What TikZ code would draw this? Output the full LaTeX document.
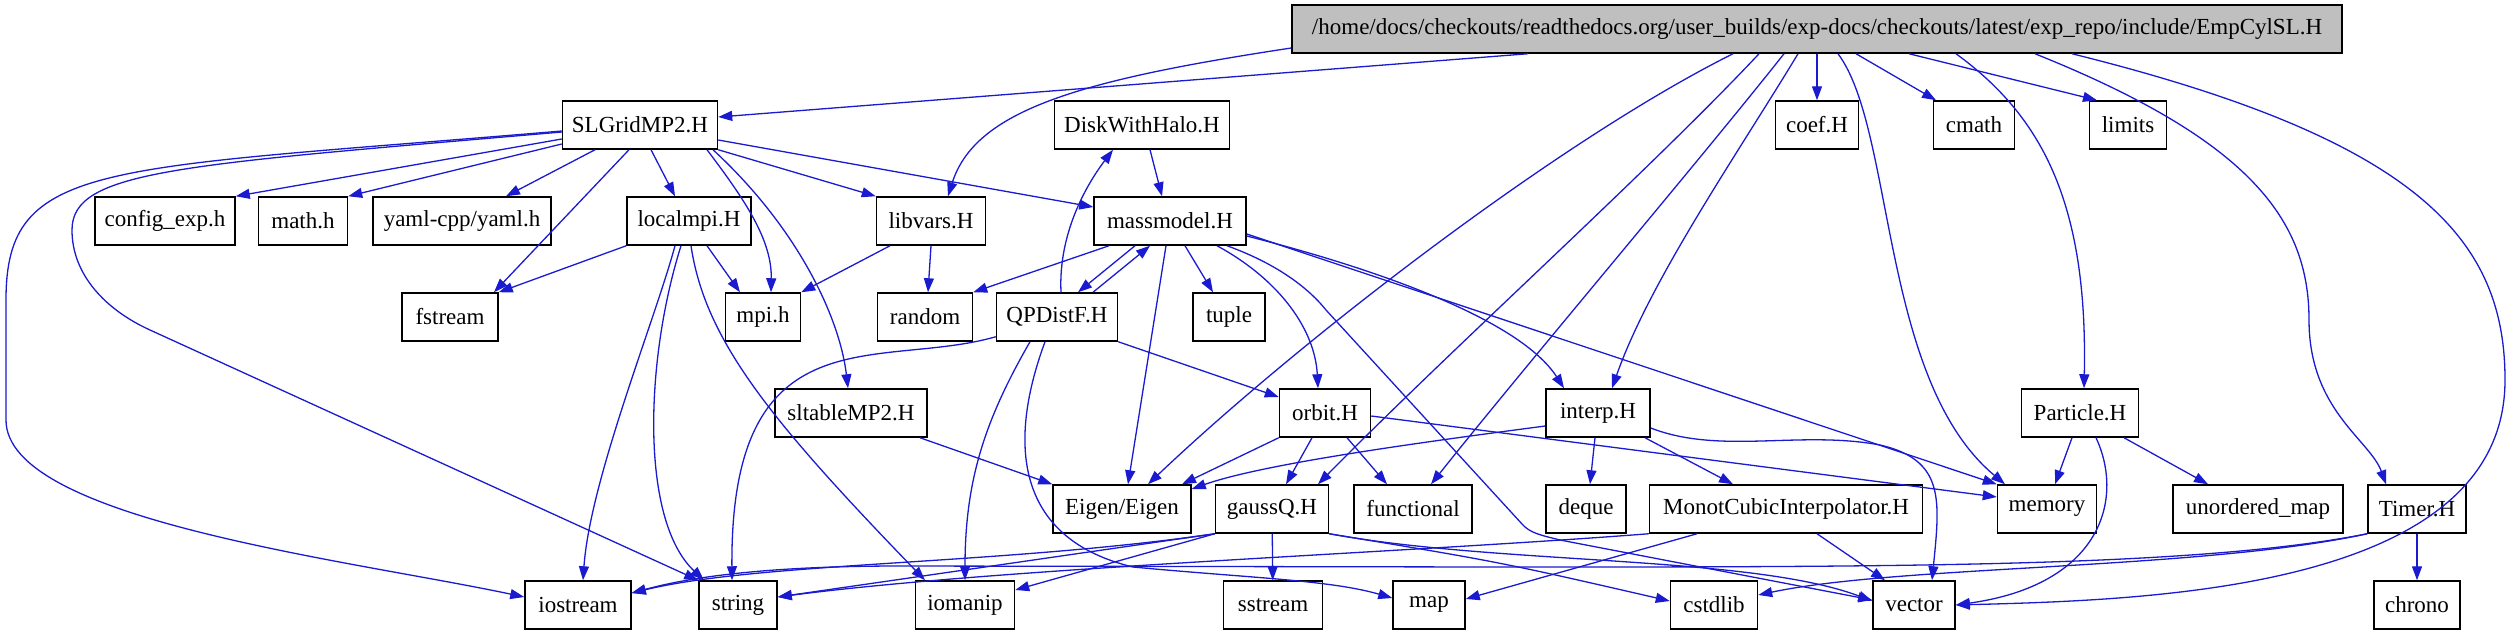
\documentclass[tikz,border=0pt]{standalone}
\usepackage{fontspec}
\setmainfont{Liberation Serif}
\usetikzlibrary{arrows.meta}
\definecolor{edgeblue}{RGB}{26,26,208}
\definecolor{rootgray}{RGB}{191,191,191}

\begin{document}
\begin{tikzpicture}[x=1pt, y=-1pt,
  box/.style={draw=black, line width=1.5pt, minimum height=48pt, inner sep=0pt,
    font=\fontsize{23}{26}\selectfont},
  edge/.style={draw=edgeblue, line width=1.3pt, -{Triangle[length=14pt,width=10pt]}}]
  \useasboundingbox (0,0) rectangle (2513,635);
  % rank 0
  \node[box, fill=rootgray, minimum width=1050pt] (root) at (1817,29) {/home/docs/checkouts/readthedocs.org/user\_builds/exp-docs/checkouts/latest/exp\_repo/include/EmpCylSL.H};
  % rank 1
  \node[box, minimum width=155pt] (slgrid) at (640,125) {SLGridMP2.H};
  \node[box, minimum width=175pt] (disk) at (1142,125) {DiskWithHalo.H};
  \node[box, minimum width=83pt] (coef) at (1817,125) {coef.H};
  \node[box, minimum width=81pt] (cmath) at (1974,125) {cmath};
  \node[box, minimum width=77pt] (limits) at (2128,125) {limits};
  % rank 2
  \node[box, minimum width=140pt] (config) at (165,221) {config\_exp.h};
  \node[box, minimum width=89pt] (math) at (303,221) {math.h};
  \node[box, minimum width=178pt] (yaml) at (462,221) {yaml-cpp/yaml.h};
  \node[box, minimum width=124pt] (localmpi) at (689,221) {localmpi.H};
  \node[box, minimum width=109pt] (libvars) at (931,221) {libvars.H};
  \node[box, minimum width=152pt] (massmodel) at (1170,221) {massmodel.H};
  % rank 3
  \node[box, minimum width=96pt] (fstream) at (450,317) {fstream};
  \node[box, minimum width=75pt] (mpi) at (763,317) {mpi.h};
  \node[box, minimum width=95pt] (random) at (925,317) {random};
  \node[box, minimum width=121pt] (qpdist) at (1057,317) {QPDistF.H};
  \node[box, minimum width=72pt] (tuple) at (1229,317) {tuple};
  % rank 4
  \node[box, minimum width=152pt] (sltable) at (851,413) {sltableMP2.H};
  \node[box, minimum width=91pt] (orbit) at (1325,413) {orbit.H};
  \node[box, minimum width=104pt] (interp) at (1598,413) {interp.H};
  \node[box, minimum width=117pt] (particle) at (2080,413) {Particle.H};
  % rank 5
  \node[box, minimum width=138pt] (eigen) at (1122,509) {Eigen/Eigen};
  \node[box, minimum width=113pt] (gaussq) at (1272,509) {gaussQ.H};
  \node[box, minimum width=118pt] (functional) at (1413,509) {functional};
  \node[box, minimum width=80pt] (deque) at (1586,509) {deque};
  \node[box, minimum width=273pt] (monot) at (1786,509) {MonotCubicInterpolator.H};
  \node[box, minimum width=99pt] (memory) at (2047,509) {memory};
  \node[box, minimum width=170pt] (umap) at (2258,509) {unordered\_map};
  \node[box, minimum width=98pt] (timer) at (2417,509) {Timer.H};
  % rank 6
  \node[box, minimum width=106pt] (iostream) at (578,605) {iostream};
  \node[box, minimum width=78pt] (string) at (738,605) {string};
  \node[box, minimum width=99pt] (iomanip) at (965,605) {iomanip};
  \node[box, minimum width=99pt] (sstream) at (1273,605) {sstream};
  \node[box, minimum width=72pt] (map) at (1429,605) {map};
  \node[box, minimum width=87pt] (cstdlib) at (1714,605) {cstdlib};
  \node[box, minimum width=82pt] (vector) at (1914,605) {vector};
  \node[box, minimum width=86pt] (chrono) at (2417,605) {chrono};

  % EmpCylSL.H
  \draw[edge] ([xshift=-289pt]root.south) -- ([yshift=8pt]slgrid.east);
  \draw[edge] ([yshift=-19pt]root.west) .. controls (1080,80) and (975,110) .. ([xshift=17pt]libvars.north);
  \draw[edge] ([xshift=-84pt]root.south) .. controls (1560,140) and (1300,340) .. ([xshift=26pt]eigen.north);
  \draw[edge] ([xshift=-58pt]root.south) .. controls (1650,170) and (1450,350) .. ([xshift=46pt]gaussq.north);
  \draw[edge] ([xshift=-33pt]root.south) .. controls (1700,160) and (1530,360) .. ([xshift=18pt]functional.north);
  \draw[edge] ([xshift=-19pt]root.south) .. controls (1740,150) and (1650,280) .. ([xshift=14pt]interp.north);
  \draw[edge] (root) -- (coef);
  \draw[edge] ([xshift=21pt]root.south) .. controls (1895,130) and (1880,380) .. ([xshift=-42pt]memory.north);
  \draw[edge] ([xshift=39pt]root.south) -- ([xshift=-38pt]cmath.north);
  \draw[edge] ([xshift=92pt]root.south) -- ([xshift=-31pt]limits.north);
  \draw[edge] ([xshift=139pt]root.south) .. controls (2040,115) and (2088,200) .. ([xshift=4pt]particle.north);
  \draw[edge] ([xshift=218pt]root.south) .. controls (2250,140) and (2309,220) .. (2309,320)
    .. controls (2309,410) and (2370,440) .. ([xshift=-31pt]timer.north);
  \draw[edge] ([xshift=255pt]root.south) .. controls (2420,140) and (2505,240) .. (2505,380)
    .. controls (2505,590) and (2150,600) .. (vector.east);

  % SLGridMP2.H
  \draw[edge] ([yshift=-14pt]slgrid.west) -- (config.north east);
  \draw[edge] ([yshift=-19pt]slgrid.west) -- (math.north east);
  \draw[edge] ([xshift=-45pt]slgrid.south) -- ([xshift=44pt]yaml.north);
  \draw[edge] ([xshift=11pt]slgrid.south) -- ([xshift=-14pt]localmpi.north);
  \draw[edge] ([xshift=-11pt]slgrid.south) -- ([xshift=44pt]fstream.north);
  \draw[edge] ([xshift=67pt]slgrid.south) .. controls (745,200) and (772,240) .. ([xshift=8pt]mpi.north);
  \draw[edge] ([xshift=73pt]slgrid.south) .. controls (800,230) and (840,320) .. ([xshift=-3pt]sltable.north);
  \draw[edge] (slgrid.south east) -- (libvars.north west);
  \draw[edge] ([yshift=-15pt]slgrid.east) -- ([yshift=14pt]massmodel.west);
  \draw[edge] ([yshift=-6pt]slgrid.west) .. controls (100,170) and (6,160) .. (6,300) -- (6,420)
    .. controls (6,520) and (350,560) .. ([yshift=8pt]iostream.west);
  \draw[edge] ([yshift=-7pt]slgrid.west) .. controls (180,165) and (72,170) .. (72,230)
    .. controls (72,275) and (106,310) .. (150,330) -- (string.north west);

  % localmpi.H, libvars.H, DiskWithHalo.H
  \draw[edge] (localmpi.south west) -- (fstream.north east);
  \draw[edge] ([xshift=18pt]localmpi.south) -- ([xshift=-23pt]mpi.north);
  \draw[edge] ([xshift=-14pt]localmpi.south) .. controls (655,320) and (590,480) .. ([xshift=5pt]iostream.north);
  \draw[edge] ([xshift=-8pt]localmpi.south) .. controls (645,360) and (640,520) .. ([xshift=-34pt]string.north);
  \draw[edge] ([xshift=2pt]localmpi.south) .. controls (705,340) and (770,420) .. ([xshift=-40pt]iomanip.north);
  \draw[edge] ([xshift=-41pt]libvars.south) -- (mpi.north east);
  \draw[edge] (libvars.south) -- ([xshift=3pt]random.north);
  \draw[edge] ([xshift=8pt]disk.south) -- ([xshift=-8pt]massmodel.north);

  % massmodel.H
  \draw[edge] ([xshift=-61pt]massmodel.south) -- (random.north east);
  \draw[edge] ([xshift=-35pt]massmodel.south) -- ([xshift=21pt]qpdist.north);
  \draw[edge] ([xshift=-4pt]massmodel.south) -- ([xshift=6pt]eigen.north);
  \draw[edge] ([xshift=15pt]massmodel.south) -- ([xshift=-16pt]tuple.north);
  \draw[edge] ([xshift=47pt]massmodel.south) .. controls (1280,280) and (1315,330) .. ([xshift=-7pt]orbit.north);
  \draw[edge] ([xshift=57pt]massmodel.south) .. controls (1280,265) and (1310,290) .. (1326,310) -- (1522,524)
    .. controls (1530,533) and (1540,535) .. (1560,540) -- ([yshift=5pt]vector.west);
  \draw[edge] ([yshift=-15pt]massmodel.east) .. controls (1380,270) and (1520,320) .. ([xshift=-34pt]interp.north);
  \draw[edge] ([yshift=-13pt]massmodel.east) -- (memory.north west);

  % QPDistF.H
  \draw[edge] ([xshift=36pt]qpdist.north) -- ([xshift=-20pt]massmodel.south);
  \draw[edge] ([xshift=4pt]qpdist.north) .. controls (1058,230) and (1090,180) .. ([xshift=-29pt]disk.south);
  \draw[edge] (qpdist.south east) -- ([yshift=16pt]orbit.west);
  \draw[edge] ([yshift=5pt]qpdist.south west) .. controls (880,370) and (730,310) .. ([xshift=-6pt]string.north);
  \draw[edge] ([xshift=-27pt]qpdist.south) .. controls (985,420) and (965,480) .. (iomanip.north);
  \draw[edge] ([xshift=-12pt]qpdist.south) .. controls (1005,450) and (1020,540) .. (1133,567)
    .. controls (1250,578) and (1330,580) .. ([yshift=7pt]map.west);

  % sltableMP2.H, orbit.H, interp.H, Particle.H
  \draw[edge] ([xshift=69pt]sltable.south) -- (eigen.north west);
  \draw[edge] (orbit.south west) -- ([xshift=60pt]eigen.north);
  \draw[edge] ([xshift=-13pt]orbit.south) -- ([xshift=14pt]gaussq.north);
  \draw[edge] ([xshift=22pt]orbit.south) -- ([xshift=-26pt]functional.north);
  \draw[edge] ([yshift=-3pt]orbit.east) -- ([yshift=12pt]memory.west);
  \draw[edge] ([yshift=-13pt]interp.west) .. controls (1400,445) and (1260,465) .. ([yshift=20pt]eigen.east);
  \draw[edge] ([xshift=-3pt]interp.south) -- ([xshift=4pt]deque.north);
  \draw[edge] ([xshift=47pt]interp.south) -- ([xshift=-53pt]monot.north);
  \draw[edge] ([yshift=-15pt]interp.east) .. controls (1720,455) and (1800,430) .. (1880,445)
    .. controls (1945,460) and (1940,500) .. ([xshift=18pt]vector.north);
  \draw[edge] ([xshift=-8pt]particle.south) -- ([xshift=8pt]memory.north);
  \draw[edge] ([xshift=44pt]particle.south) -- ([xshift=-50pt]umap.north);
  \draw[edge] ([xshift=16pt]particle.south) .. controls (2125,500) and (2100,585) .. (vector.east);

  % gaussQ.H
  \draw[edge] (gaussq) -- (sstream);
  \draw[edge] (gaussq.south east) .. controls (1500,562) .. ([yshift=4pt]cstdlib.west);
  \draw[edge] (gaussq.south east) .. controls (1500,565) and (1750,555) .. ([yshift=4pt]vector.west);
  \draw[edge] (gaussq.south west) -- ([yshift=15pt]iomanip.east);
  \draw[edge] (gaussq.south west) -- ([yshift=8pt]string.east);
  \draw[edge] (gaussq.south west) .. controls (1000,565) and (760,562) .. ([yshift=12pt]iostream.east);

  % MonotCubicInterpolator.H, Timer.H
  \draw[edge] ([xshift=-89pt]monot.south) -- ([yshift=6pt]map.east);
  \draw[edge] ([xshift=31pt]monot.south) -- ([xshift=-29pt]vector.north);
  \draw[edge] (monot.south west) .. controls (1400,553) and (1000,568) .. ([yshift=8pt]string.east);
  \draw[edge] (timer.south west) .. controls (2200,567) and (1900,567) .. (1500,567) -- (900,566)
    .. controls (750,566) and (680,580) .. ([yshift=12pt]iostream.east);
  \draw[edge] (timer.south west) .. controls (2200,570) and (1900,565) .. ([yshift=10pt]cstdlib.east);
  \draw[edge] (timer) -- (chrono);
\end{tikzpicture}
\end{document}
